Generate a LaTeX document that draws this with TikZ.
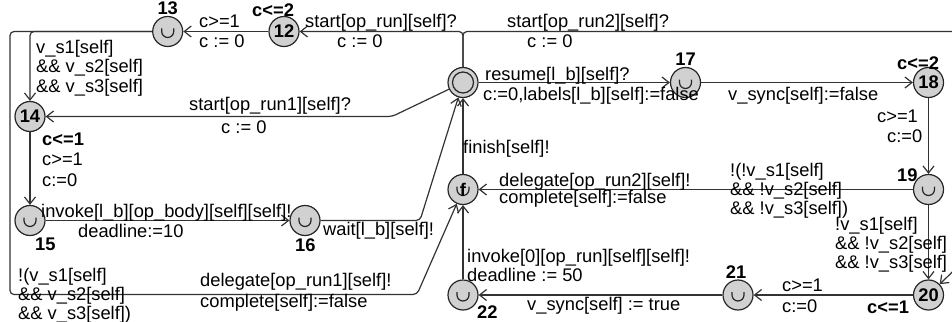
\documentclass[tikz,border=0pt]{standalone}
\usepackage{fontspec}
\setmainfont{Liberation Sans}
\usepackage{tikz}
\usetikzlibrary{arrows.meta}
\usetikzlibrary{positioning}

\newcommand{\labfont}{\fontsize{18.3}{19}\selectfont}
\newcommand{\lines}[1]{\begin{tabular}[t]{@{}l@{}}#1\end{tabular}}

\tikzset{
  loc/.style={circle,draw=black!85,line width=1.2pt,fill=black!18,
    minimum size=30pt,inner sep=0pt,font=\labfont\bfseries},
  urg/.style={loc,path picture={
    \draw[line width=1.2pt] (path picture bounding box.center) ++(-6pt,3pt)
      -- ++(0pt,-3pt) arc[start angle=180,end angle=360,radius=6pt] -- ++(0pt,3pt);}},
  initloc/.style={loc,path picture={
    \draw[line width=1.2pt] (path picture bounding box.center) circle[radius=10.5pt];}},
  trans/.style={draw=black!80,line width=1.2pt,rounded corners=4pt,
    -{Straight Barb[length=7pt,width=11pt]}},
  lab/.style={anchor=base west,inner sep=0pt,font=\labfont},
  invar/.style={lab,font=\labfont\bfseries}
}

\begin{document}
\begin{tikzpicture}[x=1pt,y=-1pt]
\useasboundingbox (0,0) rectangle (952,321);

% locations
\draw (463,82.5) node[initloc] (Init) {};
\draw (284,31.5) node[loc] (L12) {12};
\draw (167.7,31.5) node[urg] (L13) {};
\draw (30,116.5) node[loc] (L14) {14};
\draw (30,220.5) node[urg] (L15) {};
\draw (305,220.5) node[urg] (L16) {};
\draw (685.5,82.5) node[urg] (L17) {};
\draw (928.5,82.5) node[loc] (L18) {18};
\draw (928.5,189.5) node[urg] (L19) {};
\draw (928.5,295) node[loc] (L20) {20};
\draw (738,295) node[urg] (L21) {};
\draw (463,295) node[urg] (L22) {};
\draw (463,189.5) node[urg] (Fin) {f};

% names and invariants
\draw (167.7,15) node[invar,anchor=base] (t13) {13};
\draw (252,16.5) node[invar] (i12) {c<=2};
\draw (42,145) node[invar] (i14) {c<=1};
\draw (35,250) node[invar] (t15) {15};
\draw (295,251) node[invar] (t16) {16};
\draw (685.5,66) node[invar,anchor=base] (t17) {17};
\draw (897,69) node[invar] (i18) {c<=2};
\draw (897,181) node[invar] (t19) {19};
\draw (867,313) node[invar] (i20) {c<=1};
\draw (736,278) node[invar,anchor=base] (t21) {21};
\draw (477,318) node[invar] (t22) {22};

% transitions
\draw[trans] (L12) -- (L13);
\draw (199,28) node[lab] (g1) {c>=1};
\draw (199,48) node[lab] (a1) {c := 0};

\draw[trans] (Init) -- (463,31.5) -- (L12);
\draw (305,28) node[lab] (s2) {start[op\_run][self]?};
\draw (337,48) node[lab] (a2) {c := 0};

\draw[trans] (Init) -- (463,31.5) -- (975,31.5) -- (975,250) -- (L20);
\draw (507,28) node[lab] (s3) {start[op\_run2][self]?};
\draw (527,48) node[lab] (a3) {c := 0};

\draw[trans] (Init) -- (392,116.5) -- (L14);
\draw (189,110) node[lab] (s4) {start[op\_run1][self]?};
\draw (221,133) node[lab] (a4) {c := 0};

\draw[trans] (L13) -- (30,31.5) -- (L14);
\draw (36,54) node[lab] (g5) {\lines{v\_s1[self]\\\&\& v\_s2[self]\\\&\& v\_s3[self]}};

\draw[trans] (L14) -- (L15);
\draw (42,165) node[lab] (g6) {c>=1};
\draw (42,186) node[lab] (a6) {c:=0};

\draw[trans] (L15) -- (L16);
\draw (41,217) node[lab] (s7) {invoke[l\_b][op\_body][self][self]!};
\draw (78,237) node[lab] (a7) {deadline:=10};

\draw[trans] (L16) -- (420,220.5) -- (Init);
\draw (323,235) node[lab] (s8) {wait[l\_b][self]!};

\draw[trans] (L13) -- (10,31.5) -- (10,294.5) -- (417,294.5) -- (Fin);
\draw (18,281) node[lab] (g9) {\lines{!(v\_s1[self]\\\&\& v\_s2[self]\\\&\& v\_s3[self])}};
\draw (200,286) node[lab] (s9) {delegate[op\_run1][self]!};
\draw (200,307) node[lab] (a9) {complete[self]:=false};

\draw[trans] (Fin) -- (Init);
\draw (463,153) node[lab] (s10) {finish[self]!};

\draw[trans] (L19) -- (Fin);
\draw (730,176) node[lab] (g11) {\lines{!(!v\_s1[self]\\\&\& !v\_s2[self]\\\&\& !v\_s3[self])}};
\draw (499,186) node[lab] (s11) {delegate[op\_run2][self]!};
\draw (499,203) node[lab] (a11) {complete[self]:=false};

\draw[trans] (L18) -- (L19);
\draw (877,122) node[lab] (g12) {c>=1};
\draw (887,142) node[lab] (a12) {c:=0};

\draw[trans] (L19) -- (L20);
\draw (835,230) node[lab] (g13) {\lines{!v\_s1[self]\\\&\& !v\_s2[self]\\\&\& !v\_s3[self]}};

\draw[trans] (L20) -- (L21);
\draw (782,291) node[lab] (g14) {c>=1};
\draw (782,312) node[lab] (a14) {c:=0};

\draw[trans] (L21) -- (L22);
\draw (527,310) node[lab] (a15) {v\_sync[self] := true};

\draw[trans] (L22) -- (Fin);
\draw (467,262) node[lab] (s16) {invoke[0][op\_run][self][self]!};
\draw (467,281) node[lab] (a16) {deadline := 50};

\draw[trans] (Init) -- (L17);
\draw (485,80) node[lab] (s17) {resume[l\_b][self]?};
\draw (483,100) node[lab] (a17) {c:=0,labels[l\_b][self]:=false};

\draw[trans] (L17) -- (L18);
\draw (728,100) node[lab] (a18) {v\_sync[self]:=false};
\end{tikzpicture}
\end{document}
